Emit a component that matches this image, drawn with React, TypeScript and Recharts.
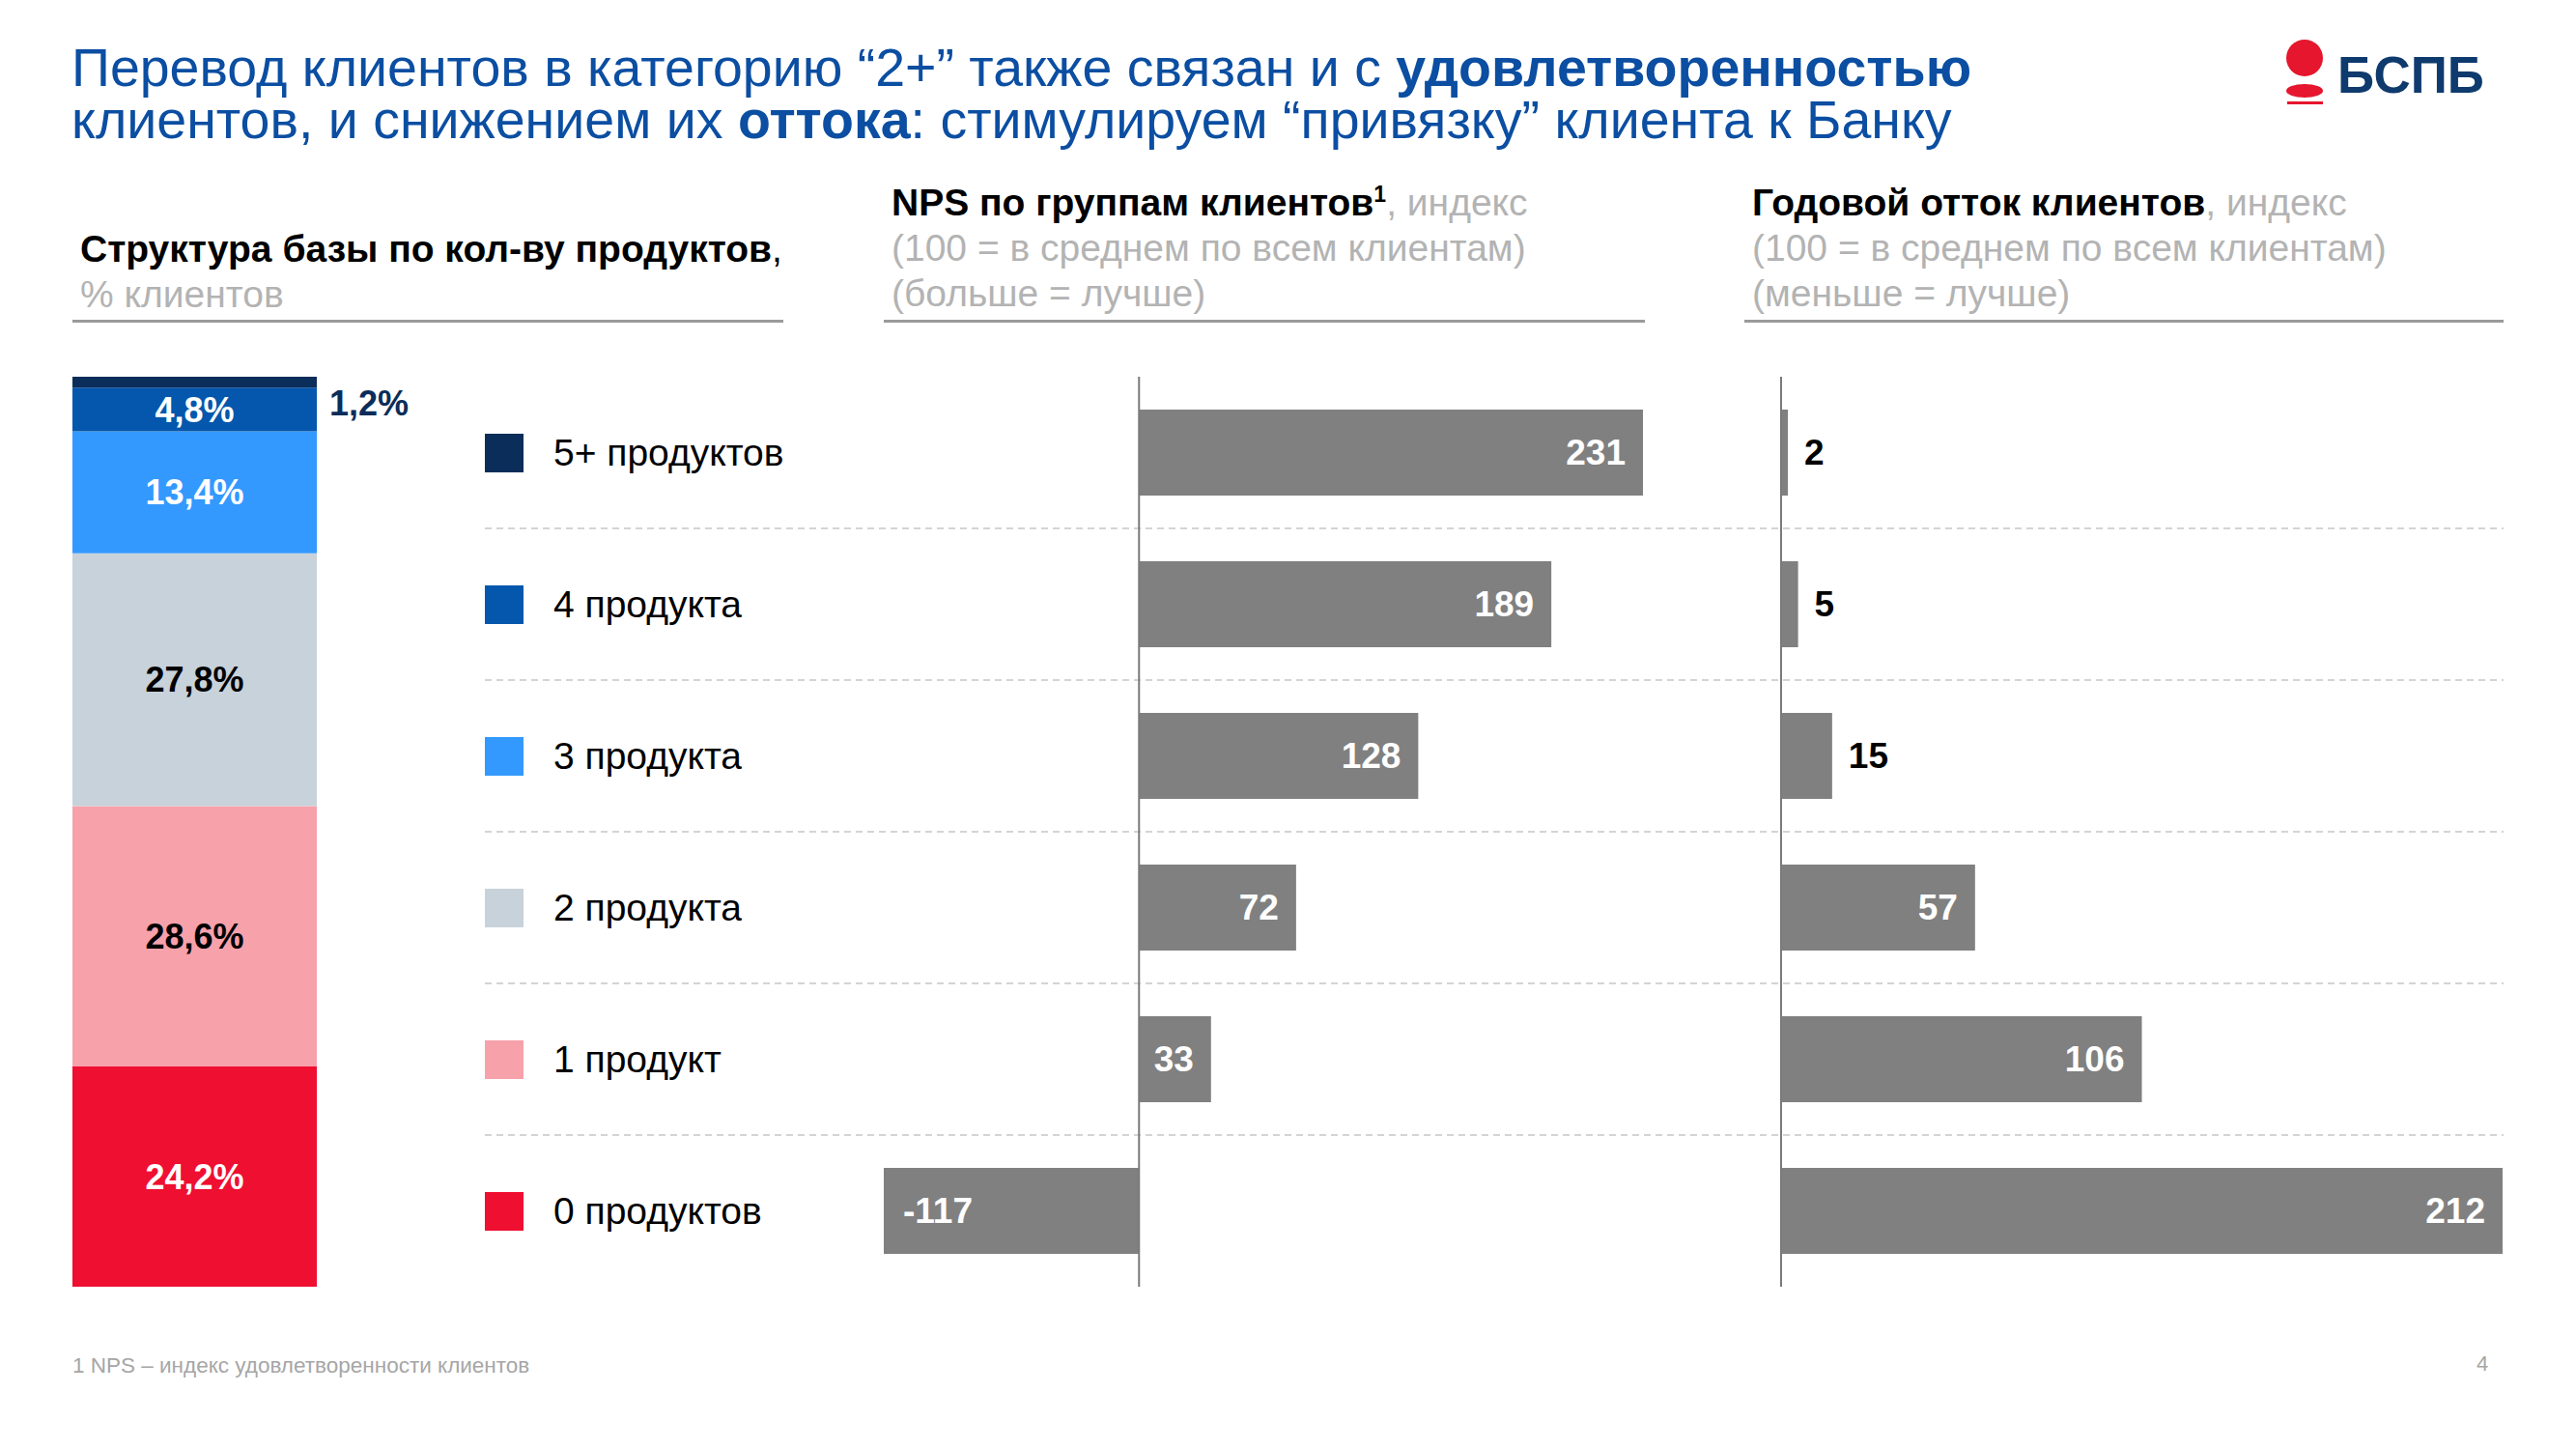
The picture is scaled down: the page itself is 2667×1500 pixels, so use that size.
import React from "react";
import { Bar, BarChart, LabelList, ReferenceLine, XAxis, YAxis } from "recharts";

const categories = ["5+ продуктов", "4 продукта", "3 продукта", "2 продукта", "1 продукт", "0 продуктов"];
const shares = [1.2, 4.8, 13.4, 27.8, 28.6, 24.2];
const npsIndex = [231, 189, 128, 72, 33, -117];
const churnIndex = [2, 5, 15, 57, 106, 212];

const segmentColors = ["#0b2d59", "#0457ac", "#3399ff", "#c8d2da", "#f7a1ab", "#ef0f31"];
const segmentInk = ["#0b2d59", "#ffffff", "#ffffff", "#000000", "#000000", "#ffffff"];

const FONT = "'Liberation Sans', Arial, sans-serif";
const BLUE = "#0b4ea2";
const GREY_TEXT = "#b3b3b3";
const BAR_GREY = "#808080";

const TOP = 390;
const PLOT_H = 942;
const ROW_H = PLOT_H / categories.length;

// one row for the stacked column, keys s0..s5
const stackRow: Record<string, any> = { name: "base" };
shares.forEach((v, i) => (stackRow["s" + i] = v));
const stackData = [stackRow];

const npsData = categories.map((name, i) => ({ name, value: npsIndex[i] }));
const churnData = categories.map((name, i) => ({ name, value: churnIndex[i] }));

const fmtPct = (v: number) => v.toFixed(1).replace(".", ",") + "%";

const makeSegLabel = (i: number) => (props: any) => {
  const { x, y, width, height } = props;
  const txt = fmtPct(shares[i]);
  if (i === 0) {
    return (
      <text x={x + width + 13} y={y + height / 2 + 22} dy="0.35em" fill={segmentInk[i]}
        fontSize={36} fontWeight={700} fontFamily={FONT}>{txt}</text>
    );
  }
  return (
    <text x={x + width / 2} y={y + height / 2} dy="0.35em" textAnchor="middle" fill={segmentInk[i]}
      fontSize={36} fontWeight={700} fontFamily={FONT}>{txt}</text>
  );
};

const BarValue = (props: any) => {
  const { x, y, width, height, value } = props;
  const left = Math.min(x, x + width);
  const right = Math.max(x, x + width);
  const cy = y + height / 2;
  const common = { fontSize: 37, fontWeight: 700, fontFamily: FONT, dy: "0.35em" };
  const need = String(value).length * 0.56 * 37 + 28;
  if (value < 0) {
    return <text x={left + 20} y={cy} fill="#fff" textAnchor="start" {...common}>{value}</text>;
  }
  if (right - left < need) {
    return <text x={right + 17} y={cy} fill="#000" textAnchor="start" {...common}>{value}</text>;
  }
  return <text x={right - 18} y={cy} fill="#fff" textAnchor="end" {...common}>{value}</text>;
};

const headText: React.CSSProperties = { fontSize: 39, lineHeight: "47px", color: GREY_TEXT, whiteSpace: "nowrap" };
const bold: React.CSSProperties = { color: "#000", fontWeight: 700 };
const sup: React.CSSProperties = { fontSize: 23, position: "relative", top: -14, lineHeight: 0 };

function Header({ left, top, width, lines }: { left: number; top: number; width: number; lines: React.ReactNode[] }) {
  return (
    <>
      <div style={{ position: "absolute", left: left + 8, top, ...headText }}>
        {lines.map((l, i) => <div key={i} style={{ height: 47 }}>{l}</div>)}
      </div>
      <div style={{ position: "absolute", left, top: 331, width, height: 3, background: "#9a9a9a" }} />
    </>
  );
}

export default function App() {
  return (
    <div style={{ position: "absolute", left: 0, top: 0, width: 2667, height: 1500, background: "#fff", fontFamily: FONT, overflow: "hidden" }}>
      {/* title */}
      <div style={{ position: "absolute", left: 74, top: 43, fontSize: 55.5, lineHeight: "54px", color: BLUE, whiteSpace: "nowrap" }}>
        <div>Перевод клиентов в категорию “2+” также связан и с <b>удовлетворенностью</b></div>
        <div>клиентов, и снижением их <b>оттока</b>: стимулируем “привязку” клиента к Банку</div>
      </div>

      {/* logo */}
      <svg style={{ position: "absolute", left: 2360, top: 36 }} width={230} height={80}>
        <circle cx={26} cy={24} r={19} fill="#e5162d" />
        <ellipse cx={26} cy={58} rx={19} ry={7} fill="#e5162d" />
        <rect x={8} y={69} width={37} height={3} fill="#e5162d" />
        <text x={60} y={60} fontSize={53} fontWeight={700} fill="#0e3a6e" fontFamily={FONT}>БСПБ</text>
      </svg>

      {/* section headers */}
      <Header left={75} top={234} width={736} lines={[
        <span style={bold}>Структура базы по кол-ву продуктов<span style={{ fontWeight: 400 }}>,</span></span>,
        <span>% клиентов</span>,
      ]} />
      <Header left={915} top={186} width={788} lines={[
        <span><span style={bold}>NPS по группам клиентов<span style={sup}>1</span></span>, индекс</span>,
        <span>(100 = в среднем по всем клиентам)</span>,
        <span>(больше = лучше)</span>,
      ]} />
      <Header left={1806} top={186} width={786} lines={[
        <span><span style={bold}>Годовой отток клиентов</span>, индекс</span>,
        <span>(100 = в среднем по всем клиентам)</span>,
        <span>(меньше = лучше)</span>,
      ]} />

      {/* dashed row separators */}
      <svg style={{ position: "absolute", left: 0, top: 0 }} width={2667} height={1500}>
        {categories.slice(1).map((_, k) => (
          <line key={k} x1={502} x2={2592} y1={TOP + ROW_H * (k + 1)} y2={TOP + ROW_H * (k + 1)}
            stroke="#d4d4d4" strokeWidth={2} strokeDasharray="7 5" />
        ))}
      </svg>

      {/* legend */}
      <div style={{ position: "absolute", left: 502, top: TOP }}>
        {categories.map((c, i) => (
          <div key={c} style={{ height: ROW_H, display: "flex", alignItems: "center" }}>
            <div style={{ width: 40, height: 40, background: segmentColors[i], marginRight: 31 }} />
            <span style={{ fontSize: 39, color: "#000" }}>{c}</span>
          </div>
        ))}
      </div>

      {/* stacked structure column */}
      <div style={{ position: "absolute", left: 75, top: TOP }}>
        <BarChart width={403} height={PLOT_H} data={stackData} margin={{ top: 0, right: 150, bottom: 0, left: 0 }} barCategoryGap={0}>
          <XAxis dataKey="name" type="category" hide />
          <YAxis type="number" domain={[0, 100]} hide />
          {shares.map((_, j) => {
            const i = shares.length - 1 - j;
            return (
              <Bar key={i} dataKey={"s" + i} stackId="a" fill={segmentColors[i]} isAnimationActive={false}>
                <LabelList dataKey={"s" + i} content={makeSegLabel(i)} />
              </Bar>
            );
          })}
        </BarChart>
      </div>

      {/* NPS */}
      <div style={{ position: "absolute", left: 915, top: TOP }}>
        <BarChart width={786} height={PLOT_H} data={npsData} layout="vertical" margin={{ top: 0, right: 0, bottom: 0, left: 0 }}>
          <XAxis type="number" domain={[-117, 231]} hide />
          <YAxis type="category" dataKey="name" hide />
          <Bar dataKey="value" fill={BAR_GREY} barSize={89} isAnimationActive={false}>
            <LabelList dataKey="value" content={BarValue} />
          </Bar>
          <ReferenceLine x={0} stroke="#7a7a7a" strokeWidth={2} />
        </BarChart>
      </div>

      {/* churn */}
      <div style={{ position: "absolute", left: 1834, top: TOP }}>
        <BarChart width={757} height={PLOT_H} data={churnData} layout="vertical" margin={{ top: 0, right: 0, bottom: 0, left: 10 }}>
          <XAxis type="number" domain={[0, 212]} hide />
          <YAxis type="category" dataKey="name" hide />
          <Bar dataKey="value" fill={BAR_GREY} barSize={89} isAnimationActive={false}>
            <LabelList dataKey="value" content={BarValue} />
          </Bar>
          <ReferenceLine x={0} stroke="#7a7a7a" strokeWidth={2} />
        </BarChart>
      </div>

      {/* footnote & page number */}
      <div style={{ position: "absolute", left: 75, top: 1401, fontSize: 22.5, color: "#a6a6a6" }}>
        1 NPS – индекс удовлетворенности клиентов
      </div>
      <div style={{ position: "absolute", left: 2564, top: 1399, fontSize: 22, color: "#a6a6a6" }}>4</div>
    </div>
  );
}
